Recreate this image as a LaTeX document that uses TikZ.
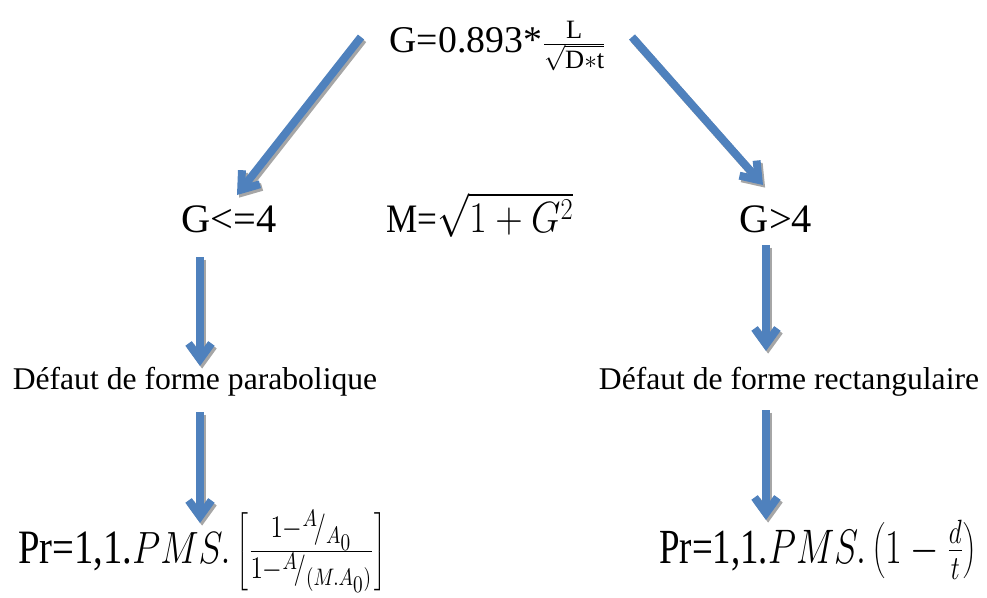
\documentclass[tikz,border=0pt]{standalone}
\usepackage{graphicx}
\usepackage{fontspec}
\setmainfont{Liberation Serif}
\usetikzlibrary{arrows.meta}
\definecolor{arrblue}{HTML}{4F81BD}
\definecolor{arrshadow}{HTML}{A6A6A6}
\newcommand\myarrow[2]{%
  \draw[shd] (#1) -- (#2);
  \draw[arr] (#1) -- (#2);}
\begin{document}
\begin{tikzpicture}[x=0.02cm,y=-0.02cm,
  lbl/.style={anchor=base,inner sep=0pt,font=\fontsize{23}{27}\selectfont},
  small/.style={anchor=base,inner sep=0pt,font=\fontsize{18}{21}\selectfont},
  arr/.style={line width=4.5pt,draw=arrblue,-{Straight Barb[length=9pt,width=13pt]}},
  shd/.style={line width=4.5pt,draw=arrshadow,-{Straight Barb[length=9pt,width=13pt]},
              transform canvas={shift={(1.2pt,-1.5pt)}}}]
\useasboundingbox (0,0) rectangle (987,598);
% texts
\node[lbl,font=\fontsize{21.5}{25}\selectfont] (top) at (498,53) {G=0.893*$\frac{\mathrm{L}}{\sqrt{\mathrm{D}\ast\mathrm{t}}}$};
\node[lbl] (gle) at (229,232) {G<=4};
\node[lbl] (m) at (480,232) {\scalebox{0.87}[1]{M=$\sqrt{1+G^2}$}};
\node[lbl] (ggt) at (776,232) {G>4};
\node[small] (dp) at (195,389) {Défaut de forme parabolique};
\node[small] (dr) at (789,389) {Défaut de forme rectangulaire};
\node[lbl,font=\fontsize{22}{26}\selectfont] (prl) at (202,563)
  {\scalebox{1}[1.24]{Pr=1,1.$PMS.\left[\frac{1-{}^{A}\!/_{A_0}}{1-{}^{A}\!/_{(M.A_0)}}\right]$}};
\node[lbl,font=\fontsize{21}{25}\selectfont] (prr) at (818,563)
  {\scalebox{1}[1.33]{Pr=1,1.$PMS.\left(1-\frac{d}{t}\right)$}};
% arrow end points
\coordinate (a1s) at (361,37);  \coordinate (a1e) at (237,195);
\coordinate (a2s) at (632,37);  \coordinate (a2e) at (763,185);
\coordinate (a3s) at (200,257); \coordinate (a3e) at (200,366);
\coordinate (a4s) at (766,245); \coordinate (a4e) at (766,351);
\coordinate (a5s) at (200,412); \coordinate (a5e) at (200,523);
\coordinate (a6s) at (766,410); \coordinate (a6e) at (766,520);
\myarrow{a1s}{a1e}
\myarrow{a2s}{a2e}
\myarrow{a3s}{a3e}
\myarrow{a4s}{a4e}
\myarrow{a5s}{a5e}
\myarrow{a6s}{a6e}
\end{tikzpicture}
\end{document}
